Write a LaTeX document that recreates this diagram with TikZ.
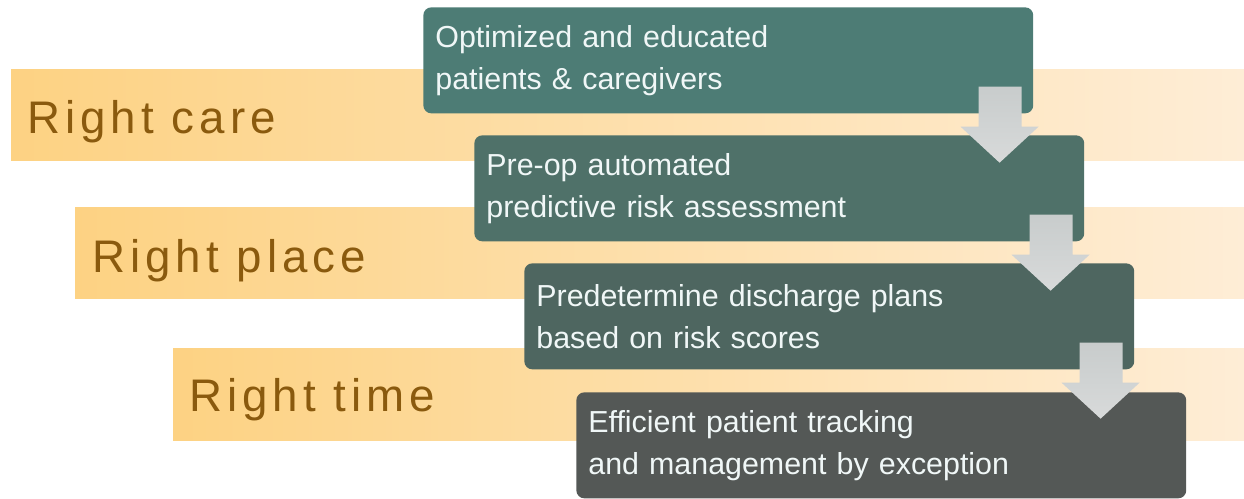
\documentclass[tikz,border=0pt]{standalone}
\usepackage{fontspec}
\setmainfont{Liberation Sans}
\newfontfamily\bandfont[LetterSpace=11]{Liberation Sans}
\usepackage{tikz}
\usetikzlibrary{calc}
\definecolor{bandleft}{RGB}{253,210,131}
\definecolor{bandright}{RGB}{254,237,214}
\definecolor{bandtext}{RGB}{138,90,14}
\definecolor{stepone}{RGB}{77,124,117}
\definecolor{steptwo}{RGB}{79,113,105}
\definecolor{stepthree}{RGB}{78,102,96}
\definecolor{stepfour}{RGB}{84,88,86}
\definecolor{arrowtop}{RGB}{200,204,204}
\definecolor{arrowbot}{RGB}{216,218,218}

\begin{document}
\begin{tikzpicture} [x=0.02cm, y=-0.02cm,
				band/.style={
				% The filling:
				left color=bandleft,
				right color=bandright
    				},
				bandlabel/.style={
				% The position:
				anchor=base west, inner sep=0pt,
				% Font
				text=bandtext,
				font=\bandfont\fontsize{26}{30}\selectfont
    				},
				stepbox/.style={
				% The shape:
				rectangle, rounded corners=1.6mm,
				% The size:
      				text width=117.2mm, inner xsep=2.4mm,
      				minimum height=21.2mm,
				anchor=north west, align=left,
				% Font
				text={white!94!teal},
				font=\fontsize{17.3}{23.9}\selectfont
    				},
				flow/.style={
				% The filling:
				top color=arrowtop,
				bottom color=arrowbot
    				},
				]
    \useasboundingbox (0,0) rectangle (1244,498);
    % bands
    \shade[band] (11,69) rectangle (1244,160);
    \shade[band] (75,207) rectangle (1244,298);
    \shade[band] (173,348) rectangle (1244,440);
    \node [bandlabel] (care) at (27,133) {Right care};
    \node [bandlabel] (place) at (92,272) {Right place};
    \node [bandlabel] (time) at (189,411) {Right time};
    % steps
    \node [stepbox, fill=stepone] (b1) at (423,7) {Optimized and educated\\patients \& caregivers};
    \node [stepbox, fill=steptwo] (b2) at (474,135) {Pre-op automated\\predictive risk assessment};
    \node [stepbox, fill=stepthree] (b3) at (524,263) {Predetermine discharge plans\\based on risk scores};
    \node [stepbox, fill=stepfour] (b4) at (576,392) {Efficient patient tracking\\and management by exception};
    % arrows
    \foreach \a in {b1,b2,b3}
    	\shade[flow, shift={(\a.south east)}] (-55,-27) -- (-12,-27) -- (-12,13) -- (5,13)
    		-- (-34,49) -- (-73,13) -- (-55,13) -- cycle;
\end{tikzpicture}
\end{document}
